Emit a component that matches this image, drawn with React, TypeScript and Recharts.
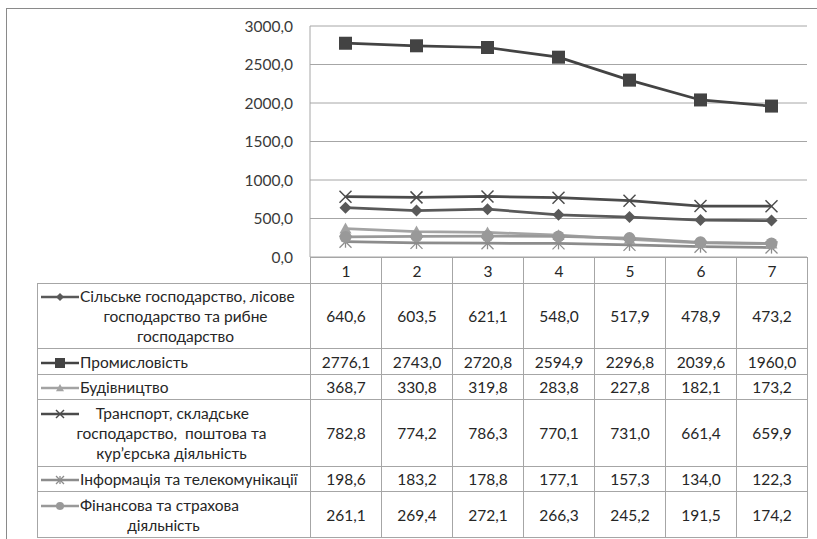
import React from "react";
import { LineChart, Line, XAxis, YAxis, CartesianGrid } from "recharts";

// categories (periods 1..7)
const categories = ["1", "2", "3", "4", "5", "6", "7"];

const agriculture = [640.6, 603.5, 621.1, 548.0, 517.9, 478.9, 473.2];
const industry = [2776.1, 2743.0, 2720.8, 2594.9, 2296.8, 2039.6, 1960.0];
const construction = [368.7, 330.8, 319.8, 283.8, 227.8, 182.1, 173.2];
const transport = [782.8, 774.2, 786.3, 770.1, 731.0, 661.4, 659.9];
const information = [198.6, 183.2, 178.8, 177.1, 157.3, 134.0, 122.3];
const finance = [261.1, 269.4, 272.1, 266.3, 245.2, 191.5, 174.2];

const yTicks = [0, 500, 1000, 1500, 2000, 2500, 3000];

const agricultureLabel = ["Сільське господарство, лісове", "господарство та рибне", "господарство"];
const industryLabel = ["Промисловість"];
const constructionLabel = ["Будівництво"];
const transportLabel = ["    Транспорт, складське", "господарство,  поштова та", "кур’єрська діяльність"];
const informationLabel = ["Інформація та телекомунікації"];
const financeLabel = ["Фінансова та страхова", "діяльність"];

type MarkerKind = "diamond" | "square" | "triangle" | "x" | "star" | "circle";

interface Series {
  key: string;
  values: number[];
  label: string[];
  color: string;
  marker: MarkerKind;
  rowHeight: number;
  shift: number; // horizontal nudge of the wrapped lines
}

const series: Series[] = [
  { key: "agriculture", values: agriculture, label: agricultureLabel, color: "#595959", marker: "diamond", rowHeight: 65, shift: 10 },
  { key: "industry", values: industry, label: industryLabel, color: "#434343", marker: "square", rowHeight: 26, shift: 0 },
  { key: "construction", values: construction, label: constructionLabel, color: "#a3a3a3", marker: "triangle", rowHeight: 25, shift: 0 },
  { key: "transport", values: transport, label: transportLabel, color: "#4b4b4b", marker: "x", rowHeight: 67, shift: -4 },
  { key: "information", values: information, label: informationLabel, color: "#8c8c8c", marker: "star", rowHeight: 25, shift: 0 },
  { key: "finance", values: finance, label: financeLabel, color: "#999999", marker: "circle", rowHeight: 46, shift: -12 },
];

const data = categories.map((c, i) => {
  const row: Record<string, any> = { cat: c };
  series.forEach((s) => (row[s.key] = s.values[i]));
  return row;
});

const fmt = (v: number) => v.toFixed(1).replace(".", ",");

const Marker = ({ cx, cy, kind, color, size }: { cx: number; cy: number; kind: MarkerKind; color: string; size: number }) => {
  const s = size / 2;
  switch (kind) {
    case "diamond":
      return <polygon points={`${cx},${cy - s} ${cx + s},${cy} ${cx},${cy + s} ${cx - s},${cy}`} fill={color} />;
    case "square":
      return <rect x={cx - s} y={cy - s} width={size} height={size} fill={color} />;
    case "triangle":
      return <polygon points={`${cx},${cy - s} ${cx + s},${cy + s * 0.8} ${cx - s},${cy + s * 0.8}`} fill={color} />;
    case "x":
      return (
        <g stroke={color} strokeWidth={1.5}>
          <line x1={cx - s} y1={cy - s} x2={cx + s} y2={cy + s} />
          <line x1={cx - s} y1={cy + s} x2={cx + s} y2={cy - s} />
        </g>
      );
    case "star":
      return (
        <g stroke={color} strokeWidth={1.3}>
          <line x1={cx - s} y1={cy - s} x2={cx + s} y2={cy + s} />
          <line x1={cx - s} y1={cy + s} x2={cx + s} y2={cy - s} />
          <line x1={cx} y1={cy - s} x2={cx} y2={cy + s} />
        </g>
      );
    default:
      return <circle cx={cx} cy={cy} r={s} fill={color} />;
  }
};

const LegendKey = ({ s }: { s: Series }) => (
  <svg width={38} height={12} style={{ verticalAlign: "middle", marginRight: 1, position: "relative", top: -1 }}>
    <line x1={0} y1={6} x2={38} y2={6} stroke={s.color} strokeWidth={2.5} />
    <Marker cx={19} cy={6} kind={s.marker} color={s.color} size={s.marker === "square" ? 10 : 8} />
  </svg>
);

const FONT = "Lato, 'Liberation Sans', sans-serif";
const FONT_SIZE = 15.5;
const TEXT = "#262626";
const BORDER = "1px solid #a6a6a6";
const PLOT_LEFT = 310;
const PLOT_RIGHT = 807;
const BAND = (PLOT_RIGHT - PLOT_LEFT) / categories.length;
const TABLE_LEFT = 37;
const HEADER_TOP = 257;
const HEADER_H = 26;

const cell = (left: number, top: number, w: number, h: number): React.CSSProperties => ({
  position: "absolute",
  left,
  top,
  width: w + 1,
  height: h + 1,
  border: BORDER,
  boxSizing: "border-box",
  display: "flex",
  alignItems: "center",
  justifyContent: "center",
  fontFamily: FONT,
  fontSize: FONT_SIZE,
  color: TEXT,
});

export default function App() {
  let top = HEADER_TOP + HEADER_H;
  const rows = series.map((s) => {
    const t = top;
    top += s.rowHeight;
    return { s, t };
  });

  return (
    <div style={{ position: "absolute", left: 0, top: 0, width: 817, height: 539, overflow: "hidden", background: "#fff" }}>
      <div style={{ position: "absolute", left: 6, top: 8, width: 900, height: 600, border: "1.5px solid #8a8a8a" }} />
      <div style={{ position: "absolute", left: 0, top: 0 }}>
        <LineChart width={817} height={271} data={data} margin={{ top: 26, right: 817 - PLOT_RIGHT, bottom: 14, left: 0 }}>
          <CartesianGrid vertical={false} stroke="#a6a6a6" />
          <XAxis dataKey="cat" hide padding={{ left: BAND / 2, right: BAND / 2 }} />
          <YAxis
            width={PLOT_LEFT}
            domain={[0, 3000]}
            ticks={yTicks}
            tickFormatter={fmt}
            tickLine={false}
            tickMargin={11}
            axisLine={{ stroke: "#a6a6a6" }}
            tick={{ fontSize: FONT_SIZE, fill: "#3a3a3a", fontFamily: FONT }}
          />
          {series.map((s) => (
            <Line
              key={s.key}
              dataKey={s.key}
              stroke={s.color}
              strokeWidth={2.75}
              isAnimationActive={false}
              dot={(p: any) => (
                <Marker key={`${s.key}-${p.index}`} cx={p.cx} cy={p.cy} kind={s.marker} color={s.color} size={s.marker === "square" ? 13 : 12} />
              )}
            />
          ))}
        </LineChart>
      </div>

      {categories.map((c, i) => (
        <div key={`h-${c}`} style={cell(PLOT_LEFT + i * BAND, HEADER_TOP, BAND, HEADER_H)}>
          {c}
        </div>
      ))}

      {rows.map(({ s, t }) => (
        <React.Fragment key={s.key}>
          <div
            style={{
              ...cell(TABLE_LEFT, t, PLOT_LEFT - TABLE_LEFT, s.rowHeight),
              justifyContent: "flex-start",
              paddingLeft: 3,
              lineHeight: "20px",
              whiteSpace: "pre",
            }}
          >
            <div style={{ width: "100%" }}>
              {s.label.map((line, li) =>
                li === 0 ? (
                  <div key={li} style={{ textAlign: "left" }}>
                    <LegendKey s={s} />
                    {line}
                  </div>
                ) : (
                  <div key={li} style={{ textAlign: "center", position: "relative", left: s.shift }}>
                    {line}
                  </div>
                )
              )}
            </div>
          </div>
          {s.values.map((v, i) => (
            <div key={`${s.key}-${i}`} style={cell(PLOT_LEFT + i * BAND, t, BAND, s.rowHeight)}>
              {fmt(v)}
            </div>
          ))}
        </React.Fragment>
      ))}
    </div>
  );
}
